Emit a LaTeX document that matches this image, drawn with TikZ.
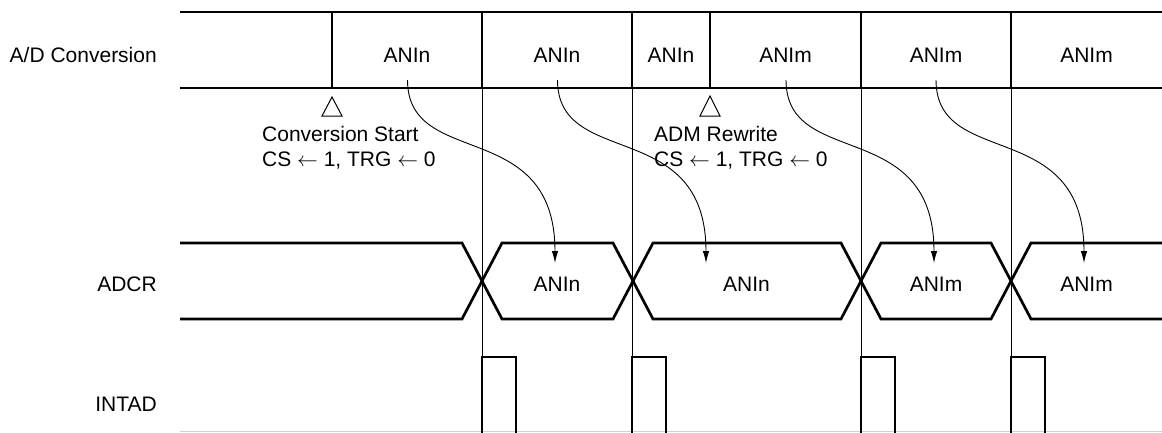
\documentclass[tikz,border=0pt]{standalone}
\usepackage{fontspec}
\setmainfont{Liberation Sans}
\usetikzlibrary{arrows.meta}
\begin{document}
\begin{tikzpicture}[x=1pt,y=-1pt,
  txt/.style={font=\fontsize{21}{25}\selectfont, inner sep=0pt},
  bold/.style={line width=2.7pt, line cap=butt, line join=miter},
  thin/.style={line width=0.9pt},
  flow/.style={line width=0.9pt, -{Latex[length=12pt,width=6.5pt]}},
  tri/.style={line width=1pt}]
\useasboundingbox (0,0) rectangle (1162,432);
% row labels
\node[txt, anchor=base east] (lad) at (157,62.3) {A/D Conversion};
\node[txt, anchor=base east] (ladcr) at (157,291) {ADCR};
\node[txt, anchor=base east] (lint) at (157,411.7) {INTAD};
% A/D conversion row
\draw[bold] (180,12) -- (1162,12);
\draw[bold] (180,88) -- (1162,88);
\foreach \x in {332,482,632,710,861,1011}
  \draw[bold] (\x,12) -- (\x,88);
\node[txt, anchor=base] (a1) at (407,62.3) {ANIn};
\node[txt, anchor=base] (a2) at (557,62.3) {ANIn};
\node[txt, anchor=base] (a3) at (671,62.3) {ANIn};
\node[txt, anchor=base] (a4) at (785.5,62.3) {ANIm};
\node[txt, anchor=base] (a5) at (936,62.3) {ANIm};
\node[txt, anchor=base] (a6) at (1086.5,62.3) {ANIm};
% thin timing lines
\foreach \x in {482,632,861,1011}
  \draw[thin] (\x,88) -- (\x,432);
% triangles
\draw[tri] (332,97) -- (322,116) -- (342,116) -- cycle;
\draw[tri] (710,96) -- (700,116) -- (720,116) -- cycle;
\node[txt, anchor=base west] (cs1) at (262,141.7) {Conversion Start};
\node[txt, anchor=base west] (cs2) at (262,166) {CS $\leftarrow$ 1, TRG $\leftarrow$ 0};
\node[txt, anchor=base west] (am1) at (654,141.7) {ADM Rewrite};
\node[txt, anchor=base west] (am2) at (654,166) {CS $\leftarrow$ 1, TRG $\leftarrow$ 0};
% ADCR row
\draw[bold] (180,243) -- (462,243) -- (502,319) -- (613,319) -- (653,243) -- (841,243) -- (881,319) -- (991,319) -- (1031,243) -- (1162,243);
\draw[bold] (180,319) -- (462,319) -- (502,243) -- (613,243) -- (653,319) -- (841,319) -- (881,243) -- (991,243) -- (1031,319) -- (1162,319);
\node[txt, anchor=base] (d1) at (557,291) {ANIn};
\node[txt, anchor=base] (d2) at (746.5,291) {ANIn};
\node[txt, anchor=base] (d3) at (936,291) {ANIm};
\node[txt, anchor=base] (d4) at (1086.5,291) {ANIm};
% transfer arrows
\coordinate (s1) at (407.5,80); \coordinate (e1) at (555,263);
\coordinate (s2) at (557.5,80); \coordinate (e2) at (706,263);
\coordinate (s3) at (786,80);   \coordinate (e3) at (934,263);
\coordinate (s4) at (936,80);   \coordinate (e4) at (1084,263);
\foreach \i in {1,2,3,4}
  \draw[flow] (s\i) .. controls +(0,90) and +(0,-147) .. (e\i);
% INTAD row
\draw[line width=1pt, gray!35] (180,431.5) -- (1162,431.5);
\foreach \x in {482,632,861,1011}
  \draw[bold] (\x,433) -- (\x,357) -- (\x+34,357) -- (\x+34,433);
\end{tikzpicture}
\end{document}
